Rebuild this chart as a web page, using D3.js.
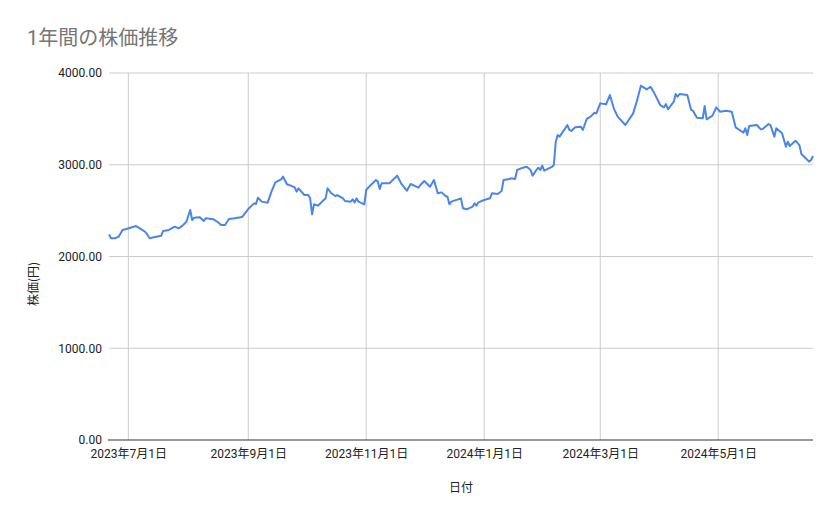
<!DOCTYPE html>
<html><head><meta charset="utf-8">
<script src="https://cdn.jsdelivr.net/npm/d3@7"></script>
<style>
html,body{margin:0;padding:0;background:#fff;}
svg{display:block;font-family:Roboto,"Noto Sans CJK JP",sans-serif;}
</style></head>
<body><svg id="chart" width="839" height="519"></svg>
<script>
const dates = [
"2023-06-21","2023-06-22","2023-06-24","2023-06-26","2023-06-28","2023-06-30","2023-07-05","2023-07-07","2023-07-10","2023-07-12","2023-07-13","2023-07-18","2023-07-19","2023-07-22","2023-07-25","2023-07-27","2023-07-29","2023-07-31","2023-08-02","2023-08-03","2023-08-04","2023-08-07","2023-08-09","2023-08-10","2023-08-14","2023-08-16","2023-08-18","2023-08-20","2023-08-22",
"2023-08-25","2023-08-28","2023-08-29","2023-08-31","2023-09-01","2023-09-04","2023-09-05","2023-09-06","2023-09-08","2023-09-11","2023-09-13","2023-09-15","2023-09-18","2023-09-19","2023-09-21","2023-09-23","2023-09-25","2023-09-26","2023-09-27","2023-09-30","2023-10-02","2023-10-03","2023-10-04","2023-10-05","2023-10-07","2023-10-11","2023-10-12","2023-10-14","2023-10-16","2023-10-17","2023-10-20","2023-10-21",
"2023-10-24","2023-10-25","2023-10-26","2023-10-27","2023-10-28","2023-10-31","2023-11-01","2023-11-03","2023-11-06","2023-11-07","2023-11-08","2023-11-09","2023-11-13","2023-11-17","2023-11-19","2023-11-22","2023-11-24","2023-11-28","2023-11-29","2023-12-01","2023-12-04","2023-12-06","2023-12-08","2023-12-10","2023-12-12","2023-12-13","2023-12-14","2023-12-15","2023-12-20","2023-12-21","2023-12-23",
"2023-12-26","2023-12-27","2023-12-28","2023-12-29","2024-01-01","2024-01-04","2024-01-05","2024-01-08","2024-01-10","2024-01-11","2024-01-14","2024-01-15","2024-01-17","2024-01-18","2024-01-21","2024-01-23","2024-01-25","2024-01-26","2024-01-28","2024-01-29","2024-01-30","2024-01-31","2024-02-01","2024-02-05","2024-02-06","2024-02-07","2024-02-08","2024-02-09","2024-02-13","2024-02-14","2024-02-15","2024-02-17","2024-02-20","2024-02-21","2024-02-23",
"2024-02-25","2024-02-27","2024-02-28","2024-03-01","2024-03-04","2024-03-06","2024-03-08","2024-03-10","2024-03-14","2024-03-18","2024-03-20","2024-03-22","2024-03-25","2024-03-27","2024-03-29","2024-04-01","2024-04-03","2024-04-04","2024-04-05","2024-04-08","2024-04-09","2024-04-10","2024-04-11","2024-04-15","2024-04-17","2024-04-18","2024-04-20","2024-04-23","2024-04-24","2024-04-25","2024-04-28",
"2024-04-30","2024-05-02","2024-05-05","2024-05-08","2024-05-10","2024-05-12","2024-05-14","2024-05-15","2024-05-16","2024-05-17","2024-05-21","2024-05-23","2024-05-24","2024-05-27","2024-05-28","2024-05-30","2024-05-31","2024-06-03","2024-06-04","2024-06-05","2024-06-06","2024-06-07","2024-06-10","2024-06-12","2024-06-13","2024-06-15","2024-06-17","2024-06-18","2024-06-19"
];
const prices = [
2240,2200,2198,2216,2289,2300,2332,2307,2264,2198,2205,2227,2278,2289,2325,2307,2336,2379,2507,2398,2423,2427,2387,2416,2405,2379,2343,2343,2409,
2416,2427,2434,2489,2518,2579,2572,2641,2598,2587,2707,2808,2841,2870,2787,2772,2754,2707,2743,2670,2670,2634,2460,2569,2554,2634,2743,2689,2659,2670,2634,2605,
2598,2623,2590,2634,2598,2569,2725,2772,2834,2816,2736,2798,2798,2881,2798,2718,2790,2750,2779,2823,2761,2834,2689,2699,2659,2652,2569,2598,2634,2525,2514,
2543,2579,2554,2590,2616,2634,2689,2681,2714,2834,2845,2852,2845,2943,2968,2979,2943,2881,2943,2968,2943,2990,2936,2976,2997,3251,3324,3306,3433,3379,3368,3408,3415,3379,3499,
3524,3567,3560,3669,3659,3760,3615,3524,3433,3560,3698,3862,3821,3850,3778,3651,3626,3662,3604,3687,3771,3742,3771,3760,3597,3586,3513,3506,3640,3495,3535,
3626,3578,3589,3578,3408,3379,3350,3397,3324,3422,3433,3386,3390,3444,3433,3306,3397,3343,3270,3197,3251,3204,3262,3211,3117,3077,3034,3052,3095
];
const xTickDates = ["2023-07-01","2023-09-01","2023-11-01","2024-01-01","2024-03-01","2024-05-01"];
const yTicks = [0,1000,2000,3000,4000];
const titleText = "1年間の株価推移";
const xTitle = "日付";
const yTitle = "株価(円)";

(function(){
const parse = d3.timeParse("%Y-%m-%d");
const data = dates.map((d,i)=>({date:parse(d), value:prices[i]}));

const svg = d3.select("#chart");
const pL=109, pR=813, pT=73, pB=440;

const x = d3.scaleTime().domain(d3.extent(data,d=>d.date)).range([pL,pR]);
const y = d3.scaleLinear().domain([0,4000]).range([pB,pT]);

// horizontal gridlines + y labels
const yAxis = d3.axisLeft(y).tickValues(yTicks).tickFormat(d3.format(".2f")).tickSize(0).tickPadding(7);
const gy = svg.append("g").attr("transform",`translate(${pL},0)`).call(yAxis);
gy.select(".domain").remove();
gy.selectAll("text").attr("font-size",12).attr("fill","#222").attr("font-family","Roboto,sans-serif");
svg.append("g").selectAll("line").data(yTicks.filter(t=>t>0)).join("line")
  .attr("x1",pL).attr("x2",pR).attr("y1",d=>y(d)).attr("y2",d=>y(d))
  .attr("stroke","#cccccc").attr("stroke-width",1);

// vertical gridlines + x labels
const fmt = d => `${d.getFullYear()}年${d.getMonth()+1}月${d.getDate()}日`;
const xAxis = d3.axisBottom(x).tickValues(xTickDates.map(parse)).tickFormat(fmt).tickSize(0).tickPadding(9);
const gx = svg.append("g").attr("transform",`translate(0,${pB})`).call(xAxis);
gx.select(".domain").remove();
gx.selectAll("text").attr("font-size",12).attr("fill","#222").attr("font-family","Roboto,'Noto Sans CJK JP',sans-serif");
svg.append("g").selectAll("line").data(xTickDates.map(parse)).join("line")
  .attr("x1",d=>x(d)).attr("x2",d=>x(d)).attr("y1",pT).attr("y2",pB)
  .attr("stroke","#cccccc").attr("stroke-width",1);

// baseline
svg.append("line").attr("x1",pL-1).attr("x2",pR).attr("y1",y(0)).attr("y2",y(0))
  .attr("stroke","#333").attr("stroke-width",1.2);

// line
const line = d3.line().x(d=>x(d.date)).y(d=>y(d.value));
svg.append("path").datum(data).attr("d",line)
  .attr("fill","none").attr("stroke","#4a86e8").attr("stroke-width",2).attr("stroke-linejoin","round");

// titles
svg.append("text").attr("x",27).attr("y",45).text(titleText)
  .attr("font-size",20).attr("fill","#757575").attr("font-family","Roboto,'Noto Sans CJK JP',sans-serif");
svg.append("text").attr("x",(pL+pR)/2).attr("y",492).attr("text-anchor","middle").text(xTitle)
  .attr("font-size",12).attr("fill","#222").attr("font-family","'Noto Sans CJK JP',sans-serif");
svg.append("text").attr("transform","translate(38,284) rotate(-90)").attr("text-anchor","middle").text(yTitle)
  .attr("font-size",12).attr("fill","#222").attr("font-family","'Noto Sans CJK JP',sans-serif");
})();
</script></body></html>
